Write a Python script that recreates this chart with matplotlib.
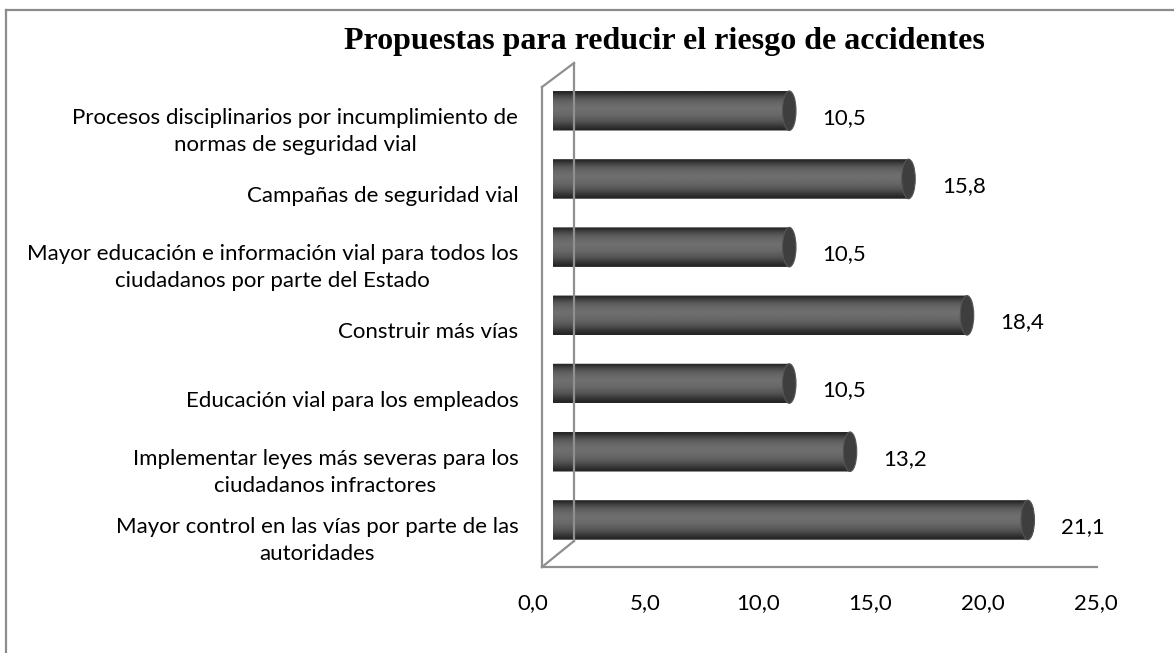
import numpy as np
import matplotlib
matplotlib.use("Agg")
import matplotlib.pyplot as plt
from matplotlib.path import Path
from matplotlib.patches import PathPatch, Ellipse
from matplotlib.lines import Line2D
import matplotlib.transforms as mtransforms

# ---- data (bottom to top) ----
categories = [
    "Mayor control en las vías por parte de las\nautoridades",
    "Implementar leyes más severas para los\nciudadanos infractores",
    "Educación vial para los empleados",
    "Construir más vías",
    "Mayor educación e información vial para todos los\nciudadanos por parte del Estado",
    "Campañas de seguridad vial",
    "Procesos disciplinarios por incumplimiento de\nnormas de seguridad vial",
]
values = [21.1, 13.2, 10.5, 18.4, 10.5, 15.8, 10.5]
value_labels = ["21,1", "13,2", "10,5", "18,4", "10,5", "15,8", "10,5"]
xticks = [0, 5, 10, 15, 20, 25]
xtick_labels = ["0,0", "5,0", "10,0", "15,0", "20,0", "25,0"]
title = "Propuestas para reducir el riesgo de accidentes"

W, H = 1174, 653
fig = plt.figure(figsize=(W / 100, H / 100), dpi=100)
fig.patch.set_facecolor("white")

def fl(xs, ys, color="#8f8f8f", lw=1.6):
    fig.add_artist(Line2D([x / W for x in xs], [(H - y) / H for y in ys],
                          transform=fig.transFigure, color=color, lw=lw))

# outer border (only top and left visible)
fl([5.5, W], [10, 10], color="#8c8c8c", lw=1.6)
fl([5.5, 5.5], [10, H], color="#8c8c8c", lw=1.6)

ax_left, ax_right = 553, 1115.5
ax_top, ax_bot = 63, 567
ax = fig.add_axes([ax_left / W, (H - ax_bot) / H, (ax_right - ax_left) / W, (ax_bot - ax_top) / H])
ax.set_xlim(0, 25)
ax.set_ylim(-0.69, 6.70)
ax.set_facecolor("none")
for s in ax.spines.values():
    s.set_visible(False)

# 3D frame (walls / floor)
fl([542, 542], [87, 567])        # front wall edge
fl([542, 574], [87, 63])         # top diagonal
fl([574, 574], [63, 541])        # back wall edge
fl([542, 574], [567, 541])       # bottom diagonal
fl([542, 1097], [567, 567])      # floor front line

# cylinder bars
bar_h = 0.58
rx = 0.3
grad = np.array([0.16, 0.25, 0.33, 0.38, 0.41, 0.43, 0.43, 0.42, 0.40, 0.37, 0.33, 0.27, 0.20, 0.15])
grad_img = np.repeat(grad[:, None], 2, axis=1)
cmap = plt.get_cmap("gray")
for i, v in enumerate(values):
    y0, y1 = i - bar_h / 2, i + bar_h / 2
    t = np.linspace(0, np.pi, 40)
    arc_x = 0 - rx * np.sin(t)
    arc_y = y0 + (bar_h / 2) * (1 - np.cos(t))
    verts = [(v, y0)] + list(zip(arc_x, arc_y)) + [(v, y1), (v, y0)]
    codes = [Path.MOVETO] + [Path.LINETO] * (len(verts) - 2) + [Path.CLOSEPOLY]
    clip = PathPatch(Path(verts, codes), transform=ax.transData, facecolor="none", edgecolor="none")
    ax.add_patch(clip)
    im = ax.imshow(grad_img, extent=(-rx, v, y0, y1), origin="upper", aspect="auto",
                   cmap=cmap, vmin=0, vmax=1, interpolation="bilinear", zorder=2)
    im.set_clip_path(clip)
    ax.add_patch(Ellipse((v, i), 2 * rx, bar_h, facecolor="#3e3e3e",
                         edgecolor="#555555", lw=0.8, zorder=3))
    ax.annotate(value_labels[i], xy=(v, i), xytext=(24, -5), textcoords="offset points",
                ha="left", va="center", fontsize=16, family="Lato", color="black")

ax.set_yticks(range(len(categories)))
ax.set_yticklabels(categories, fontsize=16, family="Lato", multialignment="center",
                   linespacing=1.45)
ax.tick_params(axis="y", length=0, pad=25)
yoff = mtransforms.ScaledTranslation(0, -15 / 100, fig.dpi_scale_trans)
for lab in ax.get_yticklabels():
    lab.set_transform(lab.get_transform() + yoff)

ax.set_xticks(xticks)
ax.set_xticklabels(xtick_labels, fontsize=16, family="Lato")
ax.tick_params(axis="x", length=0, pad=19)
xoff = mtransforms.ScaledTranslation(-20 / 100, 0, fig.dpi_scale_trans)
for lab in ax.get_xticklabels():
    lab.set_transform(lab.get_transform() + xoff)

fig.text(664 / W, (H - 42) / H, title, ha="center", va="center",
         fontsize=23, fontweight="bold", family="Liberation Serif")

fig.savefig("out.png", dpi=100, facecolor="white")
